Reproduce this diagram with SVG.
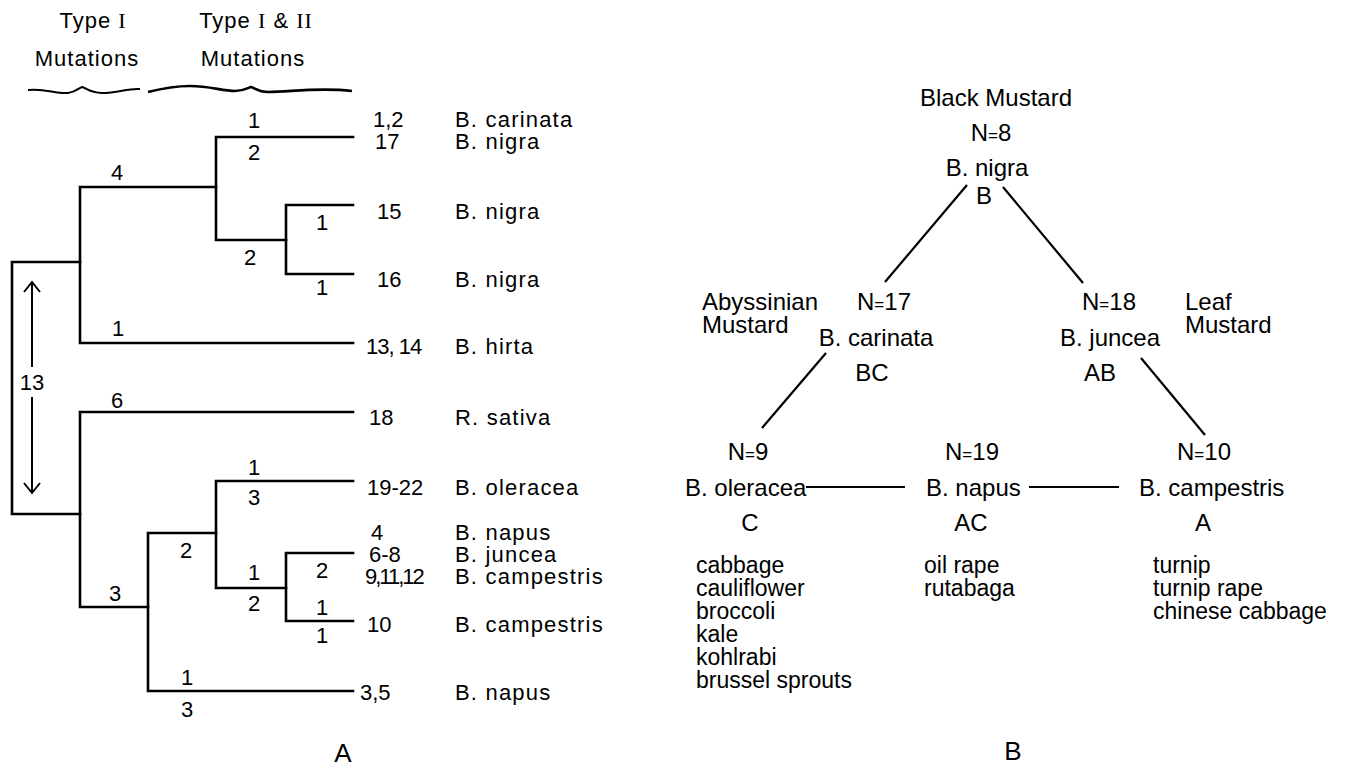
<svg xmlns="http://www.w3.org/2000/svg" width="1353" height="769" viewBox="0 0 1353 769">
<style>
text{font-family:"Liberation Sans",Arial,sans-serif;fill:#000}
.a{font-size:22px}
.sp{font-size:22px;letter-spacing:1.2px}
.hd{font-size:22px;letter-spacing:1px;text-anchor:middle}
.bl{font-size:22px;text-anchor:middle}
.b{font-size:24px}
.li{font-size:23px}
.bc{font-size:24px;text-anchor:middle}
.eq{font-size:17px}
.big{font-size:26px;text-anchor:middle}
.rn{font-family:"Liberation Serif","Times New Roman",serif}
.tr{fill:none;stroke:#000;stroke-width:2.6;stroke-linecap:square}
.ln{fill:none;stroke:#000;stroke-width:2.2}
.ar{fill:none;stroke:#000;stroke-width:2}
</style>
<rect width="1353" height="769" fill="#fff"/>

<g id="header">
<text class="hd" x="93" y="28">Type <tspan class="rn">I</tspan></text>
<text class="hd" x="87" y="66">Mutations</text>
<text class="hd" x="256" y="28">Type <tspan class="rn">I</tspan> &amp; <tspan class="rn">II</tspan></text>
<text class="hd" x="253" y="66">Mutations</text>
<path class="ar" d="M28,90 C45,88 55,94 68,93 C76,92 79,88 82,87 C86,88 90,93 102,93 C118,93 128,88 140,89"/>
<path fill="none" stroke="#000" stroke-width="2.6" d="M148,92 C160,89 175,86 190,86 C210,86 222,91 235,91 C244,91 248,88 251,87 C255,88 258,92 268,92 C290,92 318,87 352,91"/>
</g>

<g id="connectors">
<g id="tree-a">
<path class="tr" d="M12,262 V514 M12,262 H80 M12,514 H80"/>
<path class="tr" d="M80,187 V343 M80,187 H216 M80,343 H353"/>
<path class="tr" d="M216,137 V240 M216,137 H353 M216,240 H286"/>
<path class="tr" d="M286,205 V274 M286,205 H353 M286,274 H353"/>
<path class="tr" d="M80,412 V607 M80,412 H353 M80,607 H148"/>
<path class="tr" d="M148,533 V691 M148,533 H216 M148,691 H353"/>
<path class="tr" d="M216,481 V588 M216,481 H353 M216,588 H286"/>
<path class="tr" d="M286,553 V621 M286,553 H353 M286,621 H353"/>
<path class="ar" d="M32,283 V367 M24,292 L32,282 L40,292 M32,397 V492 M24,483 L32,493 L40,483"/>
</g>
<g id="tree-b">
<path class="ln" d="M967,185 L885,282"/>
<path class="ln" d="M1003,187 L1083,283"/>
<path class="ln" d="M826,353 L762,428"/>
<path class="ln" d="M1141,358 L1205,435"/>
<path class="ln" d="M806,487 H905"/>
<path class="ln" d="M1029,487 H1119"/>
</g>
</g>

<g id="branch-labels">
<text class="bl" x="117" y="180">4</text>
<text class="bl" x="254" y="128">1</text>
<text class="bl" x="254" y="160">2</text>
<text class="bl" x="250" y="265">2</text>
<text class="bl" x="322" y="230">1</text>
<text class="bl" x="322" y="295">1</text>
<text class="bl" x="118" y="336">1</text>
<text class="bl" x="32" y="390">13</text>
<text class="bl" x="117" y="408">6</text>
<text class="bl" x="254" y="475">1</text>
<text class="bl" x="254" y="505">3</text>
<text class="bl" x="186" y="558">2</text>
<text class="bl" x="322" y="578">2</text>
<text class="bl" x="254" y="580">1</text>
<text class="bl" x="115" y="601">3</text>
<text class="bl" x="254" y="611">2</text>
<text class="bl" x="322" y="615">1</text>
<text class="bl" x="322" y="643">1</text>
<text class="bl" x="187" y="685">1</text>
<text class="bl" x="187" y="717">3</text>
<text class="big" x="343" y="762">A</text>
</g>

<g id="tips">
<g id="tip-1"><text class="a" x="373" y="127">1,2</text><text class="sp" x="455" y="127">B. carinata</text></g>
<g id="tip-2"><text class="a" x="375" y="149">17</text><text class="sp" x="455" y="149">B. nigra</text></g>
<g id="tip-3"><text class="a" x="377" y="219">15</text><text class="sp" x="455" y="219">B. nigra</text></g>
<g id="tip-4"><text class="a" x="377" y="287">16</text><text class="sp" x="455" y="287">B. nigra</text></g>
<g id="tip-5"><text class="a" x="366" y="354" letter-spacing="-1">13, 14</text><text class="sp" x="455" y="354">B. hirta</text></g>
<g id="tip-6"><text class="a" x="369" y="425">18</text><text class="sp" x="455" y="425">R. sativa</text></g>
<g id="tip-7"><text class="a" x="367" y="495">19-22</text><text class="sp" x="455" y="495">B. oleracea</text></g>
<g id="tip-8"><text class="a" x="371" y="540">4</text><text class="sp" x="455" y="540">B. napus</text></g>
<g id="tip-9"><text class="a" x="369" y="562">6-8</text><text class="sp" x="455" y="562">B. juncea</text></g>
<g id="tip-10"><text class="a" x="365" y="584" letter-spacing="-2">9,11,12</text><text class="sp" x="455" y="584">B. campestris</text></g>
<g id="tip-11"><text class="a" x="367" y="632">10</text><text class="sp" x="455" y="632">B. campestris</text></g>
<g id="tip-12"><text class="a" x="360" y="700">3,5</text><text class="sp" x="455" y="700">B. napus</text></g>
</g>

<g id="node-nigra">
<text class="bc" x="996" y="106">Black Mustard</text>
<text class="bc" x="991" y="141">N<tspan class="eq">=</tspan>8</text>
<text class="bc" x="987" y="176">B. nigra</text>
<text class="bc" x="984" y="204">B</text>
</g>
<g id="node-carinata">
<text class="b" x="702" y="310">Abyssinian</text>
<text class="b" x="702" y="333">Mustard</text>
<text class="bc" x="884" y="310">N<tspan class="eq">=</tspan>17</text>
<text class="bc" x="876" y="346">B. carinata</text>
<text class="bc" x="872" y="381">BC</text>
</g>
<g id="node-juncea">
<text class="bc" x="1109" y="310">N<tspan class="eq">=</tspan>18</text>
<text class="b" x="1185" y="310">Leaf</text>
<text class="b" x="1185" y="333">Mustard</text>
<text class="bc" x="1110" y="346">B. juncea</text>
<text class="bc" x="1100" y="381">AB</text>
</g>
<g id="node-oleracea">
<text class="bc" x="748" y="460">N<tspan class="eq">=</tspan>9</text>
<text class="b" x="685" y="496">B. oleracea</text>
<text class="bc" x="750" y="531">C</text>
<text class="li" x="696" y="573">cabbage</text>
<text class="li" x="696" y="596">cauliflower</text>
<text class="li" x="696" y="619">broccoli</text>
<text class="li" x="696" y="642">kale</text>
<text class="li" x="696" y="665">kohlrabi</text>
<text class="li" x="696" y="688">brussel sprouts</text>
</g>
<g id="node-napus">
<text class="bc" x="972" y="460">N<tspan class="eq">=</tspan>19</text>
<text class="b" x="926" y="496">B. napus</text>
<text class="bc" x="971" y="531">AC</text>
<text class="li" x="924" y="573">oil rape</text>
<text class="li" x="924" y="596">rutabaga</text>
</g>
<g id="node-campestris">
<text class="bc" x="1204" y="460">N<tspan class="eq">=</tspan>10</text>
<text class="b" x="1139" y="496">B. campestris</text>
<text class="bc" x="1203" y="531">A</text>
<text class="li" x="1153" y="573">turnip</text>
<text class="li" x="1153" y="596">turnip rape</text>
<text class="li" x="1153" y="619">chinese cabbage</text>
</g>
<text class="big" x="1013" y="760">B</text>
</svg>
